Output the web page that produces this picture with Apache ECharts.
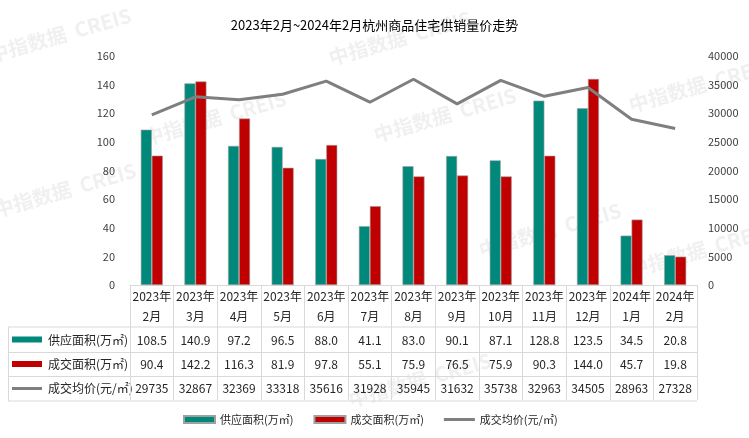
<!DOCTYPE html>
<html><head><meta charset="utf-8">
<script src="https://cdn.jsdelivr.net/npm/echarts@6/dist/echarts.min.js"></script>
<style>html,body{margin:0;padding:0;background:#fff}#c{width:749px;height:438px}</style>
</head><body><div id="c"></div>
<script>
const title = '2023年2月~2024年2月杭州商品住宅供销量价走势';
const categories = ['2023年\n2月','2023年\n3月','2023年\n4月','2023年\n5月','2023年\n6月','2023年\n7月','2023年\n8月','2023年\n9月','2023年\n10月','2023年\n11月','2023年\n12月','2024年\n1月','2024年\n2月'];
const supplyName = '供应面积(万㎡)';
const dealName = '成交面积(万㎡)';
const priceName = '成交均价(元/㎡)';
const supply = [108.5,140.9,97.2,96.5,88.0,41.1,83.0,90.1,87.1,128.8,123.5,34.5,20.8];
const deal = [90.4,142.2,116.3,81.9,97.8,55.1,75.9,76.5,75.9,90.3,144.0,45.7,19.8];
const price = [29735,32867,32369,33318,35616,31928,35945,31632,35738,32963,34505,28963,27328];
const leftTicks = {min:0,max:160,interval:20};
const rightTicks = {min:0,max:40000,interval:5000};

const TEAL = '#00897b', RED = '#c00000', GRAY = '#7f7f7f', BORDER = '#d9d9d9';
const FONT = '"Noto Sans CJK SC", "Noto Sans", sans-serif';
const txt = '#262626';

function rowAxis(values, offset, fmt) {
  return {
    type:'category', gridIndex:0, position:'bottom', offset:offset,
    data: categories,
    axisLine:{show:false}, axisTick:{show:false},
    axisLabel:{interval:0, margin:0, fontSize:12, lineHeight:14, color:txt, fontFamily:FONT,
      formatter:(v,i)=>fmt(values[i])}
  };
}

const rowsY = [340, 364.5, 388.5];
const lineYs = [327, 352.5, 376.5, 401];

const watermarks = [
  [60,35],[400,38],[215,118],[65,190],[550,230],[700,85],[445,115],[700,250],[420,380]
].map(p=>({type:'text', x:p[0], y:p[1], rotation:0.28, z:-10, silent:true,
  style:{text:'中指数据  CREIS', fill:'rgba(200,200,200,0.28)', font:'bold 20px '+FONT, align:'center', verticalAlign:'middle'}}));

const graphics = [
  ...watermarks,
  ...lineYs.map(y=>({type:'line', z:5, shape:{x1:8,y1:y,x2:697,y2:y}, style:{stroke:BORDER, lineWidth:1}})),
  {type:'line', z:5, shape:{x1:8.5,y1:327,x2:8.5,y2:401}, style:{stroke:BORDER, lineWidth:1}},
  {type:'rect', shape:{x:12,y:rowsY[0]-3.5,width:30,height:6}, style:{fill:TEAL}},
  {type:'rect', shape:{x:12,y:rowsY[1]-3.5,width:30,height:6}, style:{fill:RED}},
  {type:'rect', shape:{x:12,y:rowsY[2]-1.5,width:30,height:3}, style:{fill:GRAY}},
  {type:'text', x:48, y:rowsY[0], style:{text:supplyName, fill:txt, font:'12px '+FONT, verticalAlign:'middle'}},
  {type:'text', x:48, y:rowsY[1], style:{text:dealName, fill:txt, font:'12px '+FONT, verticalAlign:'middle'}},
  {type:'text', x:48, y:rowsY[2], style:{text:priceName, fill:txt, font:'12px '+FONT, verticalAlign:'middle'}}
];

const chart = echarts.init(document.getElementById('c'), null, {renderer:'canvas'});
chart.setOption({
  backgroundColor:'#fff',
  animation:false,
  textStyle:{fontFamily:FONT},
  title:{text:title, left:'center', top:14, textStyle:{fontSize:13, fontWeight:'normal', color:'#000', fontFamily:FONT}},
  grid:{left:130, right:52, top:56, bottom:153, containLabel:false},
  legend:{
    bottom:8, left:178, itemGap:20, itemWidth:31, itemHeight:7, symbolKeepAspect:true,
    textStyle:{fontSize:11, color:txt, fontFamily:FONT},
    data:[{name:supplyName, icon:'rect'},{name:dealName, icon:'rect'},
          {name:priceName, icon:'path://M0,0L31,0L31,3L0,3Z'}]
  },
  xAxis:[
    {type:'category', data:categories, position:'bottom',
     axisLine:{show:true, lineStyle:{color:BORDER}},
     axisTick:{show:true, length:115, lineStyle:{color:BORDER}},
     axisLabel:{interval:0, margin:1, fontSize:12, lineHeight:20, color:txt, fontFamily:FONT}},
    rowAxis(supply, 48, v=>v.toFixed(1)),
    rowAxis(deal, 72.5, v=>v.toFixed(1)),
    rowAxis(price, 96.5, v=>String(v))
  ],
  yAxis:[
    {type:'value', ...leftTicks, axisLine:{show:false}, axisTick:{show:false}, splitLine:{show:false},
     axisLabel:{fontSize:11, color:'#404040', margin:15}},
    {type:'value', ...rightTicks, position:'right', axisLine:{show:false}, axisTick:{show:false}, splitLine:{show:false},
     axisLabel:{fontSize:11, color:'#404040', margin:11, formatter:v=>String(v)}}
  ],
  series:[
    {name:supplyName, type:'bar', data:supply, barWidth:11, barGap:'0%',
     itemStyle:{color:TEAL, borderColor:'#a0a0a0', borderWidth:0.6}},
    {name:dealName, type:'bar', data:deal, barWidth:11, barGap:'0%',
     itemStyle:{color:RED, borderColor:'#a0a0a0', borderWidth:0.6}},
    {name:priceName, type:'line', yAxisIndex:1, data:price, symbol:'none', z:5,
     lineStyle:{color:GRAY, width:3}, itemStyle:{color:GRAY}}
  ],
  graphic:graphics
});
</script></body></html>
